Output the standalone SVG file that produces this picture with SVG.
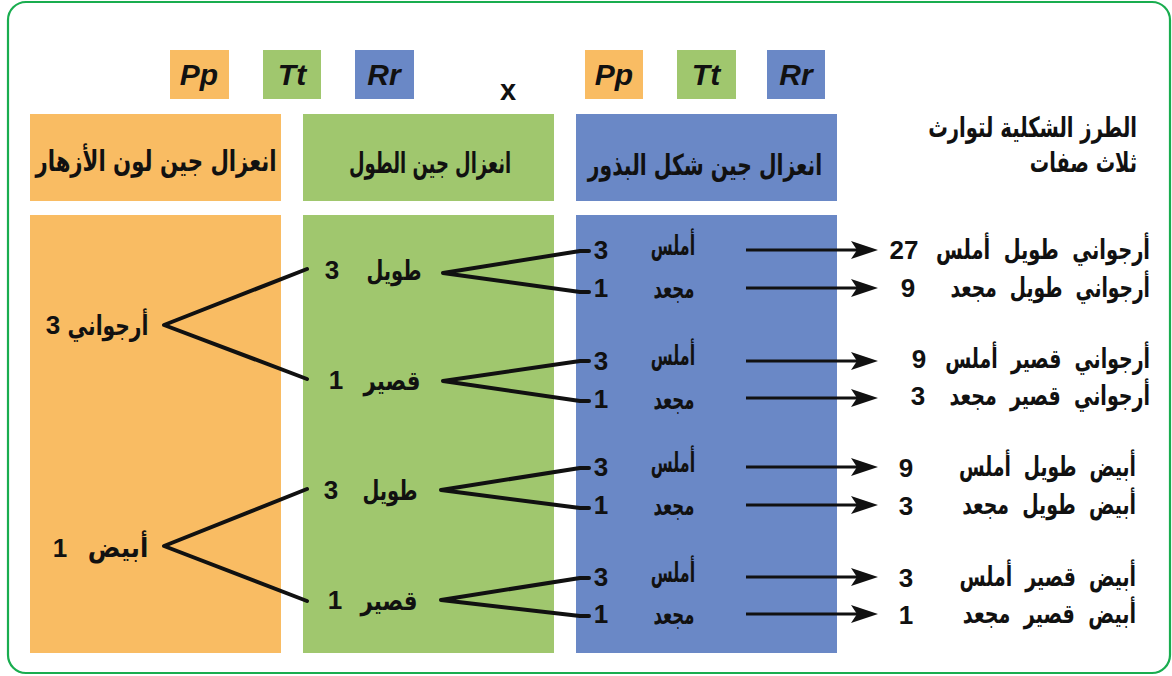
<svg xmlns="http://www.w3.org/2000/svg" width="1172" height="676" viewBox="0 0 1172 676">
<style>
.or{fill:#F9BC63}.gr{fill:#A0C76E}.bl{fill:#6A88C6}
.gene{font-family:"Liberation Sans",Arial,sans-serif;font-weight:bold;font-style:italic;font-size:30px;fill:#111;text-anchor:middle}
.ar{font-family:"DejaVu Sans",sans-serif;font-weight:bold;fill:#111}
.hd{font-size:29px;text-anchor:middle}
.tt{font-size:28px;text-anchor:end}
.lb{font-size:27px;text-anchor:middle}
.sd{font-size:27px;text-anchor:middle}
.rt{font-size:27px;text-anchor:end}
.num{font-family:"Liberation Sans",Arial,sans-serif;font-weight:bold;font-size:26px;fill:#111;text-anchor:middle}
.ln{stroke:#111;stroke-width:4;fill:none;stroke-linecap:round;stroke-linejoin:round}
.ar2{stroke:#111;stroke-width:3;fill:none}
</style>
<defs>
<path id="ah" d="M0,0 L-27,-9 L-21,0 L-27,9 Z" fill="#111"/>
</defs>
<rect x="8" y="2" width="1162" height="671" rx="18" ry="18" fill="#fff" stroke="#19AD4F" stroke-width="2.2"/>

<g id="genes-left">
<rect class="or" x="170" y="50" width="59" height="49"/><text class="gene" x="199" y="85">Pp</text>
<rect class="gr" x="263" y="50" width="58" height="49"/><text class="gene" x="292" y="85">Tt</text>
<rect class="bl" x="355" y="50" width="59" height="49"/><text class="gene" x="384" y="85">Rr</text>
</g>
<g id="cross"><text x="508" y="100" style="font-family:'Liberation Sans',Arial,sans-serif;font-weight:bold;font-size:29px;fill:#111;text-anchor:middle">x</text></g>
<g id="genes-right">
<rect class="or" x="585" y="50" width="58" height="49"/><text class="gene" x="614" y="85">Pp</text>
<rect class="gr" x="677" y="50" width="59" height="49"/><text class="gene" x="706" y="85">Tt</text>
<rect class="bl" x="767" y="50" width="58" height="49"/><text class="gene" x="796" y="85">Rr</text>
</g>

<g id="header-color"><rect class="or" x="30" y="114" width="251" height="87"/><text class="ar hd" transform="translate(156,171) scale(0.733,1)">انعزال جين لون الأزهار</text></g>
<g id="header-height"><rect class="gr" x="303" y="114" width="251" height="87"/><text class="ar hd" transform="translate(430,173) scale(0.62,1)">انعزال جين الطول</text></g>
<g id="header-seed"><rect class="bl" x="576" y="114" width="261" height="87"/><text class="ar hd" transform="translate(705,175) scale(0.70,1)">انعزال جين شكل البذور</text></g>
<g id="title"><text class="ar tt" transform="translate(1137,137) scale(0.70,1)">الطرز الشكلية لتوارث</text><text class="ar tt" transform="translate(1137,172) scale(0.69,1)">ثلاث صفات</text></g>

<g id="col-color">
<rect class="or" x="30" y="215" width="251" height="438"/>
<text class="ar lb" transform="translate(108,335) scale(0.75,1)">أرجواني</text><text class="num" x="53" y="334">3</text>
<text class="ar lb" transform="translate(118,557) scale(0.90,1)">أبيض</text><text class="num" x="60" y="557">1</text>
</g>
<g id="col-height">
<rect class="gr" x="303" y="215" width="251" height="438"/>
<text class="ar lb" transform="translate(394,280) scale(0.72,1)">طويل</text><text class="num" x="332" y="279">3</text>
<text class="ar lb" transform="translate(392,390) scale(0.79,1)">قصير</text><text class="num" x="336" y="389">1</text>
<text class="ar lb" transform="translate(390,500) scale(0.72,1)">طويل</text><text class="num" x="331" y="499">3</text>
<text class="ar lb" transform="translate(389,610) scale(0.79,1)">قصير</text><text class="num" x="335" y="609">1</text>
</g>
<g id="col-seed">
<rect class="bl" x="576" y="215" width="261" height="438"/>
<text class="ar sd" transform="translate(673,255) scale(0.59,1)">أملس</text><text class="num" x="601" y="259">3</text>
<text class="ar sd" transform="translate(674,298) scale(0.61,1)">مجعد</text><text class="num" x="601" y="297">1</text>
<text class="ar sd" transform="translate(673,365) scale(0.59,1)">أملس</text><text class="num" x="601" y="370">3</text>
<text class="ar sd" transform="translate(674,409) scale(0.61,1)">مجعد</text><text class="num" x="601" y="408">1</text>
<text class="ar sd" transform="translate(673,472) scale(0.59,1)">أملس</text><text class="num" x="601" y="476">3</text>
<text class="ar sd" transform="translate(674,515) scale(0.61,1)">مجعد</text><text class="num" x="601" y="514">1</text>
<text class="ar sd" transform="translate(673,582) scale(0.59,1)">أملس</text><text class="num" x="601" y="586">3</text>
<text class="ar sd" transform="translate(674,624) scale(0.61,1)">مجعد</text><text class="num" x="601" y="623">1</text>
</g>
<g id="results">
<text class="ar rt" transform="translate(1150,259) scale(0.72,1)">أرجواني&#160; طويل&#160; أملس</text><text class="num" x="904" y="259">27</text>
<text class="ar rt" transform="translate(1150,297) scale(0.69,1)">أرجواني&#160; طويل&#160; مجعد</text><text class="num" x="908" y="297">9</text>
<text class="ar rt" transform="translate(1150,368) scale(0.70,1)">أرجواني&#160; قصير&#160; أملس</text><text class="num" x="919" y="368">9</text>
<text class="ar rt" transform="translate(1150,405) scale(0.705,1)">أرجواني&#160; قصير&#160; مجعد</text><text class="num" x="918" y="405">3</text>
<text class="ar rt" transform="translate(1136,476) scale(0.69,1)">أبيض&#160; طويل&#160; أملس</text><text class="num" x="906" y="477">9</text>
<text class="ar rt" transform="translate(1136,514) scale(0.70,1)">أبيض&#160; طويل&#160; مجعد</text><text class="num" x="906" y="515">3</text>
<text class="ar rt" transform="translate(1136,586) scale(0.70,1)">أبيض&#160; قصير&#160; أملس</text><text class="num" x="906" y="587">3</text>
<text class="ar rt" transform="translate(1136,623) scale(0.71,1)">أبيض&#160; قصير&#160; مجعد</text><text class="num" x="906" y="624">1</text>
</g>

<g id="connectors">
<path class="ln" d="M307,269 L164,325 L307,379"/>
<path class="ln" d="M307,489 L164,546 L307,601"/>
<path class="ln" d="M589,251 L580,251 L443,273 L580,292 L589,292"/>
<path class="ln" d="M589,361 L580,361 L443,381 L580,401 L589,401"/>
<path class="ln" d="M589,468 L580,468 L441,490 L580,508 L589,508"/>
<path class="ln" d="M589,578 L580,578 L441,600 L580,616 L589,616"/>
<g>
<line class="ar2" x1="746" y1="250" x2="860" y2="250"/><use href="#ah" x="878" y="250"/>
<line class="ar2" x1="746" y1="288" x2="860" y2="288"/><use href="#ah" x="878" y="288"/>
<line class="ar2" x1="746" y1="361" x2="860" y2="361"/><use href="#ah" x="878" y="361"/>
<line class="ar2" x1="746" y1="398" x2="860" y2="398"/><use href="#ah" x="878" y="398"/>
<line class="ar2" x1="746" y1="467" x2="860" y2="467"/><use href="#ah" x="878" y="467"/>
<line class="ar2" x1="746" y1="505" x2="860" y2="505"/><use href="#ah" x="878" y="505"/>
<line class="ar2" x1="746" y1="577" x2="860" y2="577"/><use href="#ah" x="878" y="577"/>
<line class="ar2" x1="746" y1="614" x2="860" y2="614"/><use href="#ah" x="878" y="614"/>
</g>
</g>
</svg>
